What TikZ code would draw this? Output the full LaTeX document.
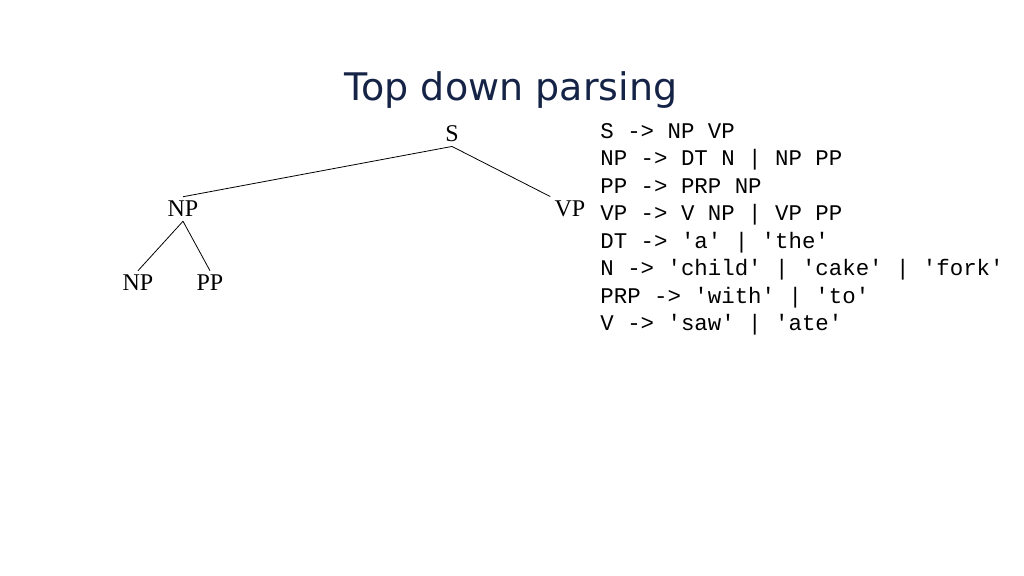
\documentclass[tikz,border=0pt]{standalone}
\usepackage{fontspec}
\setmainfont{Liberation Serif}
\setmonofont{Liberation Mono}
\newfontfamily\titlefont{DejaVu Sans}
\definecolor{titleblue}{RGB}{20,35,70}
\tikzset{
  cat/.style={inner sep=2pt, font=\fontsize{12}{14}\selectfont},
  rules/.style={anchor=north west, align=left, inner sep=0pt, font=\ttfamily\fontsize{11.2}{13.75}\selectfont}
}
\begin{document}
\begin{tikzpicture}[x=0.5pt,y=-0.5pt]
    \useasboundingbox (0,0) rectangle (1024,576);
    \node[font=\titlefont\fontsize{19}{22}\selectfont, text=titleblue] (title) at (511,90) {Top down parsing};

    \node[cat] (S) at (452,134) {S};
    \node[cat] (NP) at (183,209) {NP};
    \node[cat] (VP) at (570,209) {VP};
    \node[cat] (NPa) at (138,283) {NP};
    \node[cat] (PP) at (210,283) {PP};

    \draw (S.south) -- (NP.north);
    \draw (S.south) -- (VP.north west);
    \draw (NP.south) -- (NPa.north);
    \draw (NP.south) -- (PP.north);

    \node[rules] (grammar) at (600,123) {S -> NP VP\\
NP -> DT N | NP PP\\
PP -> PRP NP\\
VP -> V NP | VP PP\\
DT -> 'a' | 'the'\\
N -> 'child' | 'cake' | 'fork'\\
PRP -> 'with' | 'to'\\
V -> 'saw' | 'ate'};
\end{tikzpicture}
\end{document}
